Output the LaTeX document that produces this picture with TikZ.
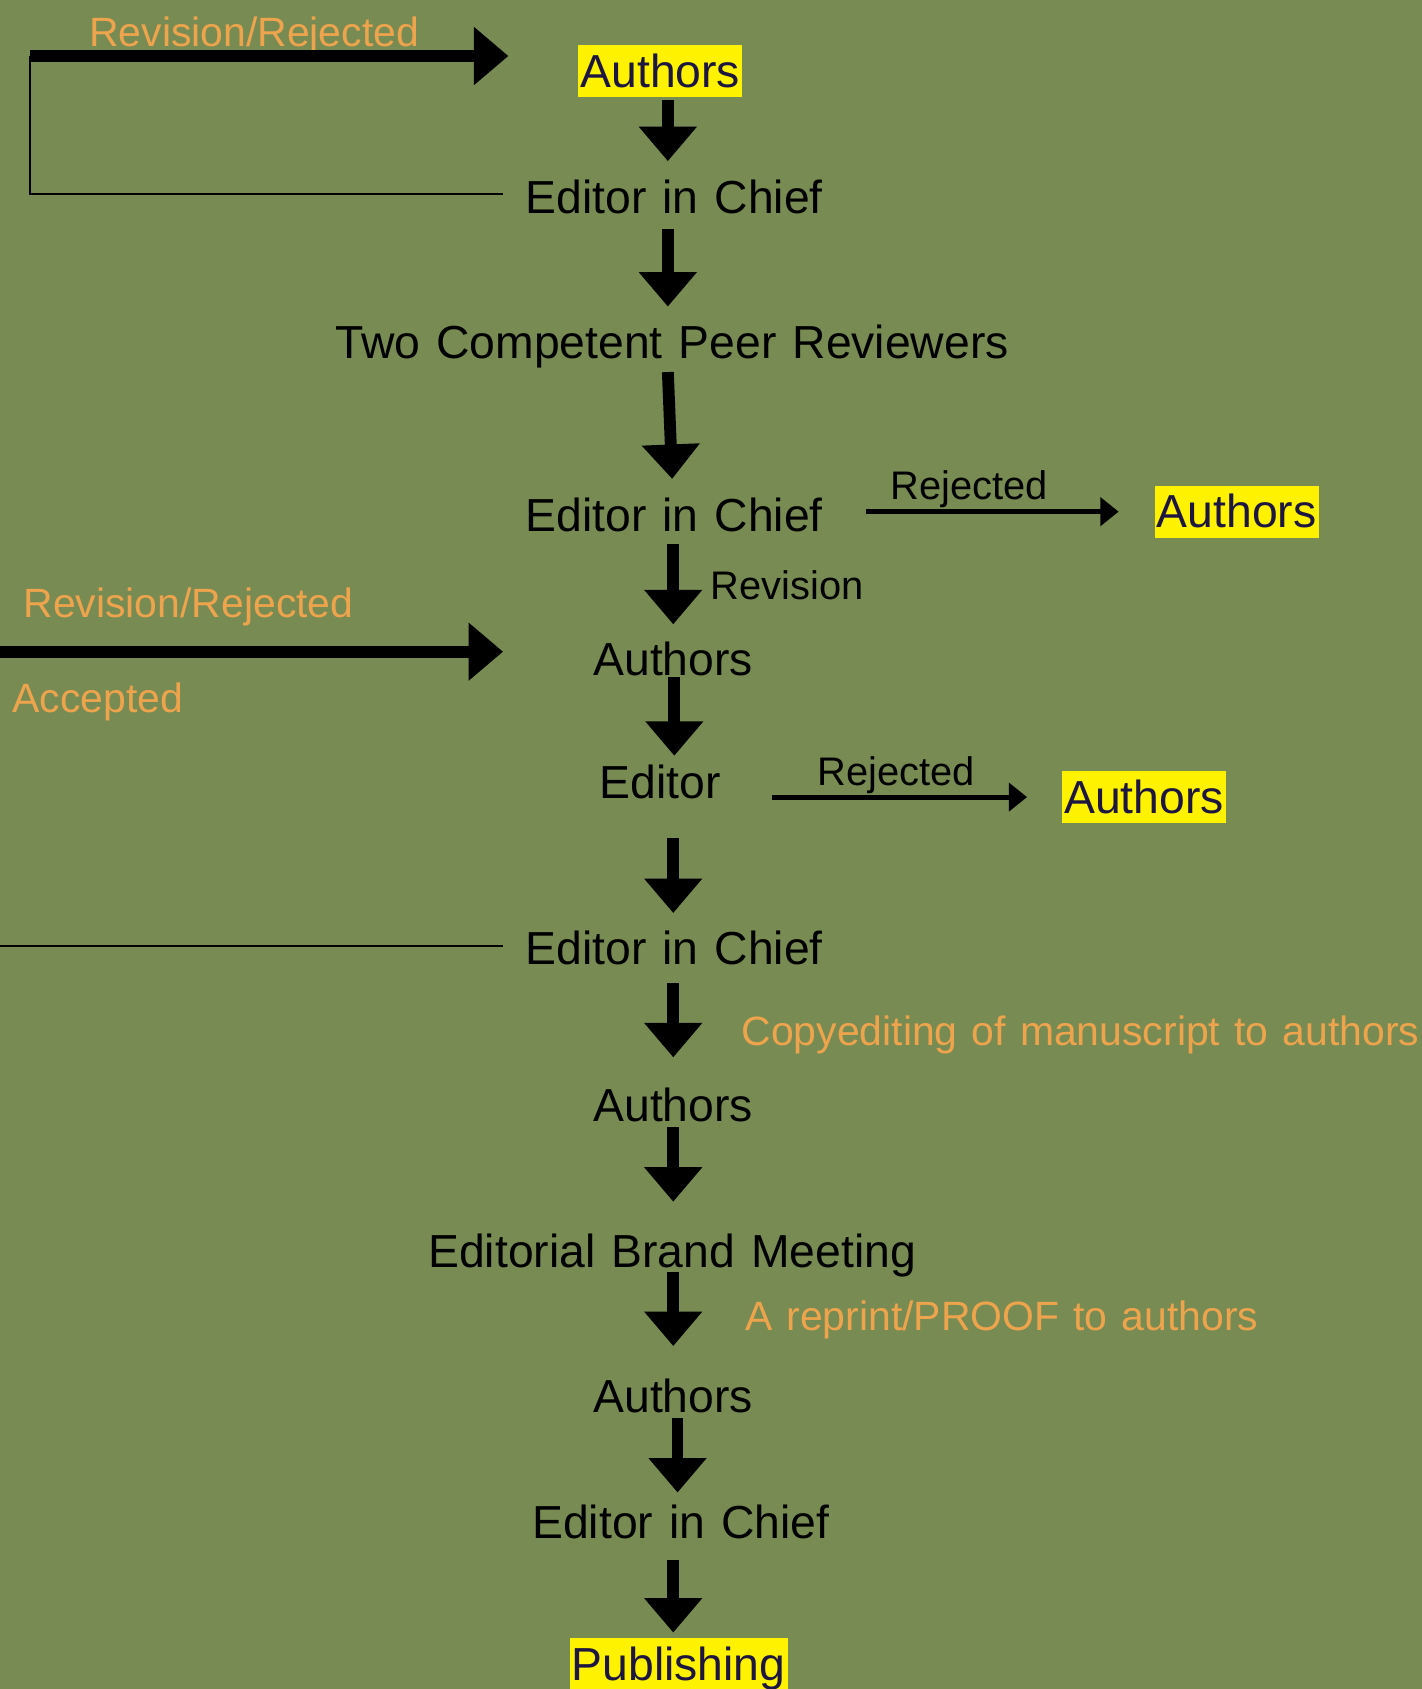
\documentclass[tikz,border=0pt]{standalone}
\usepackage{fontspec}
\setmainfont{Liberation Sans}
\newfontfamily\stagefont[WordSpace=1.1]{Liberation Sans}
\newfontfamily\notefont[WordSpace=1.24]{Liberation Sans}
\usetikzlibrary{arrows.meta}
\definecolor{boardgreen}{RGB}{119,139,83}
\definecolor{noteorange}{RGB}{238,164,76}
\definecolor{authorink}{RGB}{28,22,64}
\tikzset{
  stage/.style={font=\stagefont\fontsize{21.5}{24}\selectfont,text height=19.5pt,text depth=4.5pt,inner ysep=0pt,inner xsep=1pt},
  hilite/.style={stage,fill=yellow,text=authorink},
  note/.style={font=\notefont\fontsize{19}{22}\selectfont,text=noteorange,text height=17.5pt,text depth=4pt,inner sep=0pt},
  tag/.style={font=\fontsize{18.5}{22}\selectfont,text height=17pt,text depth=4pt,inner sep=0pt},
  flow/.style={line width=5.5pt,-{Triangle[width=26pt,length=16pt]}},
  reject/.style={line width=2.3pt,-{Triangle[width=13pt,length=8.5pt]}},
  back/.style={line width=1pt}
}
\begin{document}
\begin{tikzpicture}[x=0.5pt,y=-0.5pt]
\useasboundingbox (0,0) rectangle (1320,1568);
\fill[boardgreen] (0,0) rectangle (1320,1568);
% main column
\node[hilite] (auth1) at (613,66) {Authors};
\node[stage] (eic1) at (626,183) {Editor in Chief};
\node[stage] (rev) at (624,318) {Two Competent Peer Reviewers};
\node[stage] (eic2) at (626,478) {Editor in Chief};
\node[stage] (auth2) at (625,612) {Authors};
\node[stage] (ed) at (613,726) {Editor};
\node[stage] (eic3) at (626,880) {Editor in Chief};
\node[stage] (auth3) at (625,1026) {Authors};
\node[stage] (ebm) at (624,1162) {Editorial Brand Meeting};
\node[stage] (auth4) at (625,1296) {Authors};
\node[stage] (eic4) at (632,1413) {Editor in Chief};
\node[hilite] (pub) at (630,1545) {Publishing};
% rejected branches
\node[hilite] (authR1) at (1148,475) {Authors};
\node[hilite] (authR2) at (1062,740) {Authors};
\node[tag] (rej1) at (900,451) {Rejected};
\node[tag] (rej2) at (832,716) {Rejected};
\node[tag] (revlbl) at (731,544) {Revision};
% notes
\node[note] (loopnote) at (236,30) {Revision/Rejected};
\node[note] (backnote) at (175,560) {Revision/Rejected};
\node[note] (accnote) at (91,648) {Accepted};
\node[note] (copynote) at (1003,957) {Copyediting of manuscript to authors};
\node[note] (proofnote) at (930,1222) {A reprint/PROOF to authors};
% down arrows
\draw[flow] ([xshift=3.5pt,yshift=-1pt]auth1.south) -- ([xshift=-3pt,yshift=4.5pt]eic1.north);
\draw[flow] ([xshift=-3pt,yshift=-2.5pt]eic1.south) -- ([xshift=-2pt,yshift=4.5pt]rev.north);
\draw[flow] ([xshift=-2pt,yshift=-1.5pt]rev.south) -- ([xshift=-1pt,yshift=4.5pt]eic2.north);
\draw[flow] ([xshift=-0.5pt,yshift=-1.5pt]eic2.south) -- ([yshift=4pt]auth2.north);
\draw[flow] ([xshift=0.5pt,yshift=4pt]auth2.south) -- ([xshift=6.5pt]ed.north);
\draw[flow] ([xshift=6pt,yshift=-14pt]ed.south) -- ([xshift=-0.5pt,yshift=4pt]eic3.north);
\draw[flow] ([xshift=-0.5pt,yshift=-4pt]eic3.south) -- ([yshift=10pt]auth3.north);
\draw[flow] ([yshift=2pt]auth3.south) -- ([xshift=0.5pt,yshift=11pt]ebm.north);
\draw[flow] ([xshift=0.5pt,yshift=3pt]ebm.south) -- ([yshift=11pt]auth4.north);
\draw[flow] ([xshift=2pt,yshift=2pt]auth4.south) -- ([xshift=-1.5pt,yshift=1.5pt]eic4.north);
\draw[flow] ([xshift=-3.5pt,yshift=-5.5pt]eic4.south) -- ([xshift=-2.5pt,yshift=2.5pt]pub.north);
% side arrows
\draw[reject,shorten <=19pt,shorten >=16.5pt] (eic2.east |- authR1.west) -- (authR1.west);
\draw[reject,shorten <=22.5pt,shorten >=16pt] (ed.east |- authR2.west) -- (authR2.west);
% feedback lines
\coordinate (looptop) at (28,52);
\coordinate (loopbot) at (28,180);
\coordinate (looptip) at (472,52);
\draw[back,shorten <=9.5pt] (loopbot -| eic1.west) -- (loopbot) -- (looptop);
\draw[flow] (looptop) -- (looptip);
\coordinate (backin) at (0,605);
\coordinate (backtip) at (467,605);
\draw[flow] (backin) -- (backtip);
\coordinate (backout) at (0,878);
\draw[back,shorten <=9.5pt] (backout -| eic3.west) -- (backout);
\end{tikzpicture}
\end{document}
